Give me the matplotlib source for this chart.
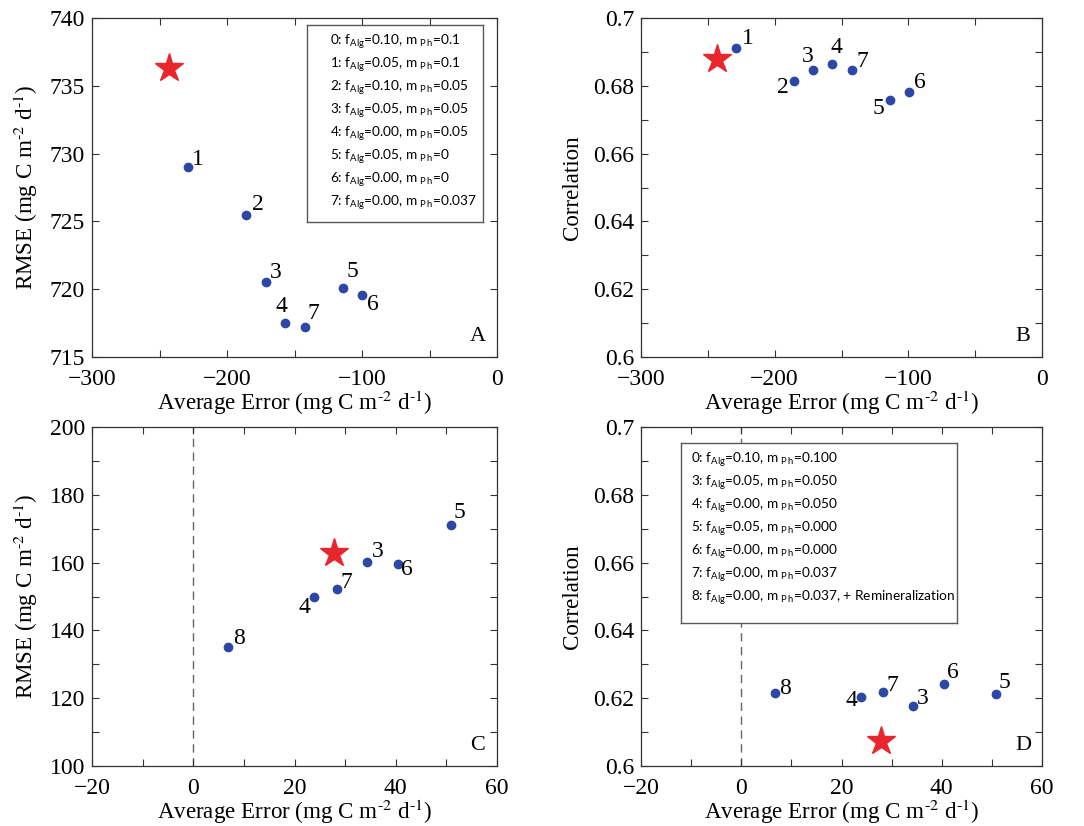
import matplotlib
matplotlib.use("Agg")
import numpy as np
from matplotlib import pyplot as plt
from matplotlib.ticker import MultipleLocator

# top row: experiments 1-7 vs observations, star = case 0
top_ids = ["1", "2", "3", "4", "5", "6", "7"]
top_err = [-228.6, -185.8, -171.4, -157.2, -113.8, -99.7, -142.4]
top_rmse = [729.0, 725.5, 720.5, 717.5, 720.1, 719.55, 717.2]
top_corr = [0.6911, 0.6814, 0.6846, 0.6865, 0.6759, 0.6781, 0.6846]
top_star_err = -242.9
top_star_rmse = 736.3
top_star_corr = 0.6879

# bottom row: experiments 3-8, star = case 0
bot_ids = ["3", "4", "5", "6", "7", "8"]
bot_err = [34.3, 23.9, 50.9, 40.5, 28.3, 6.8]
bot_rmse = [160.2, 149.9, 171.1, 159.7, 152.2, 135.2]
bot_corr = [0.6178, 0.6204, 0.6211, 0.6241, 0.6219, 0.6215]
bot_star_err = 27.9
bot_star_rmse = 162.7
bot_star_corr = 0.6074

legend_top = [
    ("0", "0.10", "0.1"),
    ("1", "0.05", "0.1"),
    ("2", "0.10", "0.05"),
    ("3", "0.05", "0.05"),
    ("4", "0.00", "0.05"),
    ("5", "0.05", "0"),
    ("6", "0.00", "0"),
    ("7", "0.00", "0.037"),
]
legend_bot = [
    ("0", "0.10", "0.100"),
    ("3", "0.05", "0.050"),
    ("4", "0.00", "0.050"),
    ("5", "0.05", "0.000"),
    ("6", "0.00", "0.000"),
    ("7", "0.00", "0.037"),
    ("8", "0.00", "0.037, + Remineralization"),
]

# label offsets (pixels) for the point numbers
offs_a = {"1": (9, 8), "2": (12, 10), "3": (10, 10), "4": (-3, 17),
          "5": (9, 16), "6": (10, -9), "7": (9, 14)}
offs_b = {"1": (11, 10), "2": (-11, -6), "3": (-5, 14), "4": (5, 16),
          "5": (-11, -9), "6": (11, 10), "7": (11, 9)}
offs_c = {"3": (11, 10), "4": (-10, -11), "5": (9, 12), "6": (9, -6),
          "7": (10, 7), "8": (11, 8)}
offs_d = {"3": (10, 7), "4": (-10, -4), "5": (8, 12), "6": (9, 12),
          "7": (9, 6), "8": (10, 5)}

plt.rcParams['font.family'] = 'Liberation Serif'
plt.rcParams['mathtext.fontset'] = 'custom'
plt.rcParams['mathtext.rm'] = 'Lato'
plt.rcParams['mathtext.it'] = 'Lato:italic'
plt.rcParams['mathtext.bf'] = 'Lato:bold'

W, H = 1084, 826
BLUE = "#2c47a6"
RED = "#e8262b"
fig = plt.figure(figsize=(W / 100, H / 100), dpi=100)


def px_axes(l, t, r, b):
    return fig.add_axes([l / W, 1 - b / H, (r - l) / W, (b - t) / H])


xlab = "Average Error (mg C m$^{\\mathrm{\u2010}2}$ d$^{\\mathrm{\u2010}1}$)"
ylab_rmse = "RMSE (mg C m$^{\\mathrm{\u2010}2}$ d$^{\\mathrm{\u2010}1}$)"


def style(ax, xlim, ylim, xmaj, xmin, ymaj, ymin, xl, yl, letter):
    ax.set_xlim(*xlim)
    ax.set_ylim(*ylim)
    ax.xaxis.set_major_locator(MultipleLocator(xmaj))
    ax.xaxis.set_minor_locator(MultipleLocator(xmin))
    ax.yaxis.set_major_locator(MultipleLocator(ymaj))
    ax.yaxis.set_minor_locator(MultipleLocator(ymin))
    ax.tick_params(which='both', direction='in', top=True, right=True,
                   length=5, width=0.8, color='0.2', labelsize=17)
    ax.tick_params(axis='x', pad=9)
    ax.tick_params(axis='y', pad=5)
    for sp in ax.spines.values():
        sp.set_color('0.2')
        sp.set_linewidth(0.9)
    ax.set_xlabel(xl, fontsize=16.6, math_fontfamily='stix', labelpad=-1)
    ax.set_ylabel(yl, fontsize=16.6, math_fontfamily='stix', labelpad=7)
    ax.text(0.953, 0.06, letter, transform=ax.transAxes, ha='center',
            va='center', fontsize=16)


def plot_points(ax, xs, ys, ids, offs, sx, sy):
    ax.plot(xs, ys, 'o', color=BLUE, ms=6, mec=BLUE, zorder=3)
    for x, y, i in zip(xs, ys, ids):
        ax.annotate(i, (x, y), xytext=offs[i], textcoords='offset pixels',
                    ha='center', va='center', fontsize=17, zorder=4)
    ax.plot([sx], [sy], '*', color=RED, mec=RED, ms=21, zorder=5)


def legend_box(l, t, r, b, rows, x0, first, step):
    lax = px_axes(l, t, r, b)
    lax.set_xticks([])
    lax.set_yticks([])
    lax.set_xlim(0, r - l)
    lax.set_ylim(b - t, 0)
    for sp in lax.spines.values():
        sp.set_color('0.35')
        sp.set_linewidth(1.0)
    lax.set_zorder(10)
    for k, (n, fa, mp) in enumerate(rows):
        s = n + r": f$_{\mathrm{Alg}}$=" + fa + r", m $_{\mathrm{P\,h}}$=" + mp
        lax.text(x0, first + k * step, s, fontsize=9.8, family='Lato',
                 va='baseline', ha='left')


# A
ax = px_axes(92, 18, 497, 357)
plot_points(ax, top_err, top_rmse, top_ids, offs_a, top_star_err, top_star_rmse)
style(ax, (-300, 0), (715, 740), 100, 50, 5, 5, xlab, ylab_rmse, "A")
legend_box(307, 25, 483, 222, legend_top, 23, 20, 23)

# B
ax = px_axes(641, 18, 1042, 357)
plot_points(ax, top_err, top_corr, top_ids, offs_b, top_star_err, top_star_corr)
style(ax, (-300, 0), (0.6, 0.7), 100, 50, 0.02, 0.01, xlab, "Correlation", "B")
ax.set_yticks(np.arange(0.6, 0.7001, 0.02))
ax.set_yticklabels(["0.6", "0.62", "0.64", "0.66", "0.68", "0.7"])

# C
ax = px_axes(92, 427, 497, 766)
ax.axvline(0, color='0.4', lw=1.0, ls=(0, (6, 4)), zorder=1)
plot_points(ax, bot_err, bot_rmse, bot_ids, offs_c, bot_star_err, bot_star_rmse)
style(ax, (-20, 60), (100, 200), 20, 10, 20, 10, xlab, ylab_rmse, "C")

# D
ax = px_axes(641, 427, 1042, 766)
ax.axvline(0, color='0.4', lw=1.0, ls=(0, (6, 4)), zorder=1)
plot_points(ax, bot_err, bot_corr, bot_ids, offs_d, bot_star_err, bot_star_corr)
style(ax, (-20, 60), (0.6, 0.7), 20, 10, 0.02, 0.01, xlab, "Correlation", "D")
ax.set_yticks(np.arange(0.6, 0.7001, 0.02))
ax.set_yticklabels(["0.6", "0.62", "0.64", "0.66", "0.68", "0.7"])
legend_box(681, 443, 957, 623, legend_bot, 10, 20, 23)

fig.savefig("out.png", dpi=100)
